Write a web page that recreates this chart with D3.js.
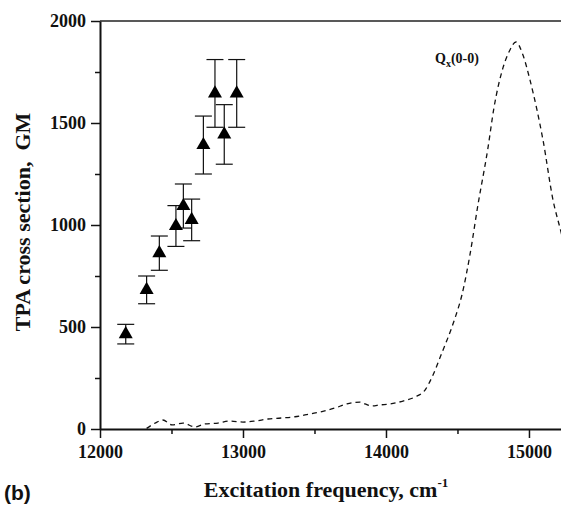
<!DOCTYPE html>
<html>
<head>
<meta charset="utf-8">
<script src="https://cdn.jsdelivr.net/npm/d3@7"></script>
<style>
  body { margin: 0; background: #fff; }
  svg { display: block; }
</style>
</head>
<body>
<script>
const width = 561;
const height = 505;

// TPA measurements (frequency cm-1, cross section GM, error GM)
const tpaFreq = [12180, 12326, 12415, 12531, 12583, 12641, 12723, 12804, 12869, 12956];
const tpaValue = [465, 682, 862, 995, 1093, 1025, 1392, 1645, 1444, 1645];
const tpaError = [48, 68, 84, 100, 108, 102, 142, 166, 146, 166];

// scaled one-photon absorption spectrum (dashed)
const absFreq = [12326, 12399, 12440, 12503, 12580, 12664, 12734, 12825, 12909, 13000,
  13084, 13175, 13266, 13364, 13469, 13552, 13643, 13727, 13818, 13853, 13902, 13958,
  14028, 14119, 14203, 14273, 14329, 14385, 14427, 14483, 14531, 14587, 14643, 14713,
  14755, 14818, 14867, 14909, 14958, 15007, 15056, 15098, 15168, 15224, 15260];
const absValue = [3, 34, 44, 20, 29, 10, 25, 29, 39, 34,
  39, 49, 54, 60, 74, 85, 103, 123, 132, 123, 113, 118,
  123, 137, 157, 191, 265, 363, 436, 544, 657, 853, 1098, 1377,
  1574, 1770, 1858, 1897, 1833, 1711, 1564, 1417, 1123, 966, 860];

const xMajor = [12000, 13000, 14000, 15000];
const xMinor = [12500, 13500, 14500];
const yMajor = [0, 500, 1000, 1500, 2000];
const yMinor = [250, 750, 1250, 1750];

const plotLeft = 100, plotTop = 21, plotBottom = 429;

const x = d3.scaleLinear().domain([12000, 15224]).range([plotLeft, width]);
const y = d3.scaleLinear().domain([0, 2000]).range([plotBottom, plotTop]);

const svg = d3.select("body").append("svg")
  .attr("width", width)
  .attr("height", height);

svg.append("defs").append("clipPath")
  .attr("id", "plot-clip")
  .append("rect")
  .attr("x", plotLeft).attr("y", 0)
  .attr("width", width - plotLeft).attr("height", plotBottom + 1);

const serif = "'Liberation Serif', 'Times New Roman', serif";

// top frame line
svg.append("line")
  .attr("x1", plotLeft).attr("x2", width)
  .attr("y1", plotTop).attr("y2", plotTop)
  .attr("stroke", "#222").attr("stroke-width", 1.5);

// x axis
svg.append("g")
  .attr("transform", `translate(0,${plotBottom})`)
  .call(d3.axisBottom(x).tickValues(xMajor).tickFormat(d3.format("d"))
    .tickSize(9).tickPadding(7).tickSizeOuter(0));
svg.append("g")
  .attr("transform", `translate(0,${plotBottom})`)
  .call(d3.axisBottom(x).tickValues(xMinor).tickFormat("").tickSize(5).tickSizeOuter(0))
  .select(".domain").remove();

// y axis
svg.append("g")
  .attr("transform", `translate(${plotLeft},0)`)
  .call(d3.axisLeft(y).tickValues(yMajor).tickFormat(d3.format("d"))
    .tickSize(9).tickPadding(5).tickSizeOuter(0));
svg.append("g")
  .attr("transform", `translate(${plotLeft},0)`)
  .call(d3.axisLeft(y).tickValues(yMinor).tickFormat("").tickSize(5).tickSizeOuter(0))
  .select(".domain").remove();

svg.selectAll(".domain").attr("stroke", "#111").attr("stroke-width", 2);
svg.selectAll(".tick line").attr("stroke", "#111").attr("stroke-width", 1.5);
svg.selectAll(".tick text")
  .attr("font-family", serif)
  .attr("font-weight", "bold")
  .attr("font-size", "18px")
  .attr("fill", "#111");

// dashed absorption curve
svg.append("path")
  .datum(absFreq.map((f, i) => [f, absValue[i]]))
  .attr("clip-path", "url(#plot-clip)")
  .attr("fill", "none")
  .attr("stroke", "#111")
  .attr("stroke-width", 1.3)
  .attr("stroke-dasharray", "5,4")
  .attr("d", d3.line().x(d => x(d[0])).y(d => y(d[1])).curve(d3.curveMonotoneX));

// error bars
const pts = tpaFreq.map((f, i) => ({ f, v: tpaValue[i], e: tpaError[i] }));
const bars = svg.append("g").attr("stroke", "#111").attr("stroke-width", 1.2);
pts.forEach(d => {
  const cx = x(d.f);
  bars.append("line").attr("x1", cx).attr("x2", cx)
    .attr("y1", y(d.v - d.e)).attr("y2", y(d.v + d.e));
  [d.v - d.e, d.v + d.e].forEach(v => {
    bars.append("line").attr("x1", cx - 8.5).attr("x2", cx + 8.5)
      .attr("y1", y(v)).attr("y2", y(v));
  });
});

// triangles
svg.append("g").selectAll("path")
  .data(pts)
  .join("path")
  .attr("transform", d => `translate(${x(d.f)},${y(d.v)})`)
  .attr("d", d3.symbol(d3.symbolTriangle, 85))
  .attr("fill", "#000");

// Qx(0-0) label
const q = svg.append("text")
  .attr("x", 435).attr("y", 63)
  .attr("font-family", serif).attr("font-weight", "bold")
  .attr("font-size", "14px").attr("fill", "#111");
q.append("tspan").text("Q");
q.append("tspan").attr("font-size", "10px").attr("dy", 4).text("x");
q.append("tspan").attr("dy", -4).text("(0-0)");

// axis titles
const xt = svg.append("text")
  .attr("x", 326).attr("y", 497)
  .attr("text-anchor", "middle")
  .attr("font-family", serif).attr("font-weight", "bold")
  .attr("font-size", "22px").attr("fill", "#111");
xt.append("tspan").text("Excitation frequency, cm");
xt.append("tspan").attr("font-size", "13px").attr("dy", -10).text("-1");

svg.append("text")
  .attr("transform", "translate(30,222) rotate(-90)")
  .attr("text-anchor", "middle")
  .attr("font-family", serif).attr("font-weight", "bold")
  .attr("font-size", "22px").attr("fill", "#111")
  .attr("xml:space", "preserve")
  .text("TPA cross section,  GM");

// panel letter
svg.append("text")
  .attr("x", 4).attr("y", 500)
  .attr("font-family", "'Liberation Sans', Arial, sans-serif")
  .attr("font-weight", "bold")
  .attr("font-size", "21px").attr("fill", "#111")
  .text("(b)");
</script>
</body>
</html>
